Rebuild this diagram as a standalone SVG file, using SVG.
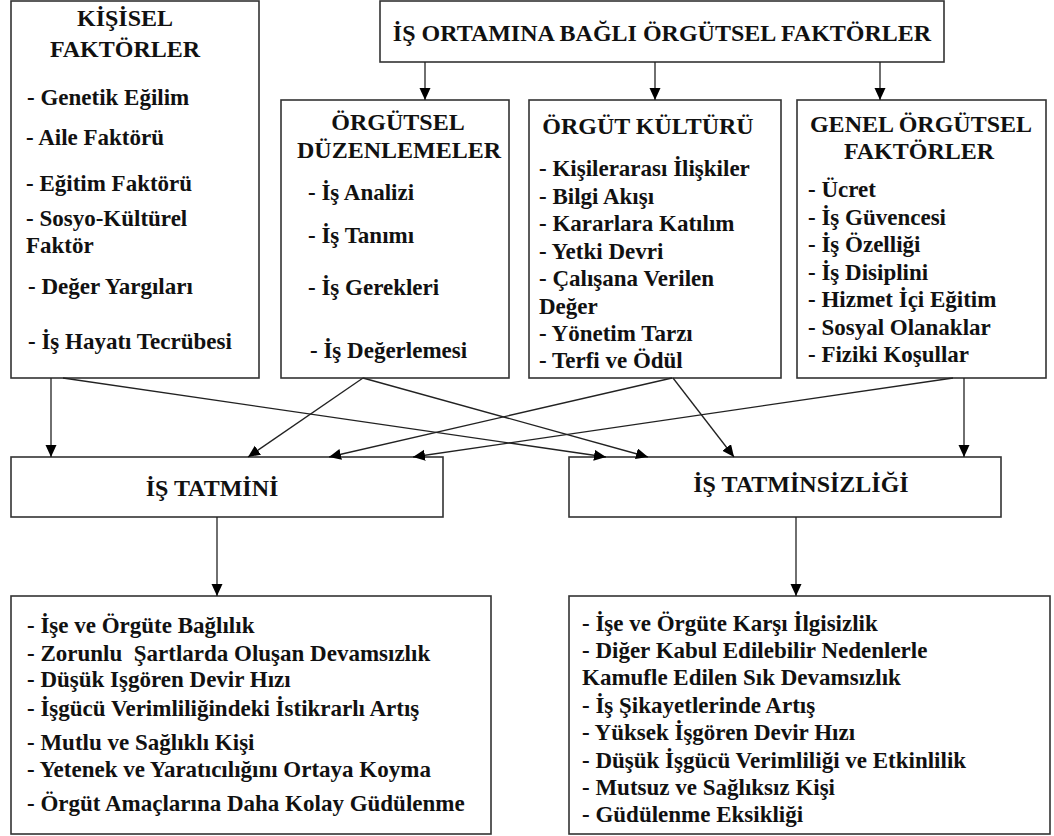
<svg xmlns="http://www.w3.org/2000/svg" width="1054" height="836" viewBox="0 0 1054 836">
<style>
.box{fill:#fff;stroke:#333;stroke-width:1.6}
text{font-family:"Liberation Serif","Times New Roman",serif;font-weight:bold;font-size:23px;fill:#111}
.t{text-anchor:middle;font-size:24px}
.c line{stroke:#222;stroke-width:1.3;marker-end:url(#ah)}
</style>
<defs>
<marker id="ah" markerUnits="userSpaceOnUse" markerWidth="13" markerHeight="12" refX="12" refY="5.5" orient="auto"><path d="M0,0 L12,5.5 L0,11 z" fill="#000"/></marker>
</defs>
<rect width="1054" height="836" fill="#fff"/>

<g id="n-header"><rect class="box" x="380" y="1" width="564" height="61"/><text class="t" x="662" y="41">İŞ ORTAMINA BAĞLI ÖRGÜTSEL FAKTÖRLER</text></g>

<g id="n-kisisel"><rect class="box" x="11" y="1" width="248" height="377"/>
<text class="t" x="125" y="26">KİŞİSEL</text><text class="t" x="125" y="57">FAKTÖRLER</text>
<text x="27" y="105">- Genetik Eğilim</text>
<text x="26" y="145">- Aile Faktörü</text>
<text x="26" y="191">- Eğitim Faktörü</text>
<text x="26" y="226">- Sosyo-Kültürel</text>
<text x="26" y="253">Faktör</text>
<text x="28" y="294">- Değer Yargıları</text>
<text x="28" y="349">- İş Hayatı Tecrübesi</text>
</g>

<g id="n-duzen"><rect class="box" x="281" y="100" width="228" height="278"/>
<text class="t" x="398" y="130">ÖRGÜTSEL</text><text class="t" x="399" y="158">DÜZENLEMELER</text>
<text x="308" y="200">- İş Analizi</text>
<text x="308" y="243">- İş Tanımı</text>
<text x="308" y="295">- İş Gerekleri</text>
<text x="310" y="358">- İş Değerlemesi</text>
</g>

<g id="n-kultur"><rect class="box" x="529" y="100" width="252" height="278"/>
<text class="t" x="648" y="134">ÖRGÜT KÜLTÜRÜ</text>
<text x="539" y="176">- Kişilerarası İlişkiler</text>
<text x="539" y="204">- Bilgi Akışı</text>
<text x="539" y="231">- Kararlara Katılım</text>
<text x="539" y="259">- Yetki Devri</text>
<text x="539" y="286">- Çalışana Verilen</text>
<text x="539" y="314">Değer</text>
<text x="539" y="341">- Yönetim Tarzı</text>
<text x="539" y="368">- Terfi ve Ödül</text>
</g>

<g id="n-genel"><rect class="box" x="797" y="100" width="249" height="278"/>
<text class="t" x="921" y="132">GENEL ÖRGÜTSEL</text><text class="t" x="919" y="159">FAKTÖRLER</text>
<text x="808" y="197">- Ücret</text>
<text x="808" y="225">- İş Güvencesi</text>
<text x="808" y="252">- İş Özelliği</text>
<text x="808" y="280">- İş Disiplini</text>
<text x="808" y="307">- Hizmet İçi Eğitim</text>
<text x="808" y="335">- Sosyal Olanaklar</text>
<text x="808" y="362">- Fiziki Koşullar</text>
</g>

<g id="n-tatmin"><rect class="box" x="11" y="457" width="432" height="60"/><text class="t" x="212" y="496">İŞ TATMİNİ</text></g>
<g id="n-tatminsiz"><rect class="box" x="569" y="457" width="432" height="60"/><text class="t" x="801" y="492">İŞ TATMİNSİZLİĞİ</text></g>

<g id="n-sonuc1"><rect class="box" x="11" y="596" width="480" height="238"/>
<text x="27" y="633">- İşe ve Örgüte Bağlılık</text>
<text x="27" y="661">- Zorunlu &#160;Şartlarda Oluşan Devamsızlık</text>
<text x="27" y="687">- Düşük Işgören Devir Hızı</text>
<text x="27" y="716">- İşgücü Verimliliğindeki İstikrarlı Artış</text>
<text x="27" y="750">- Mutlu ve Sağlıklı Kişi</text>
<text x="27" y="777">- Yetenek ve Yaratıcılığını Ortaya Koyma</text>
<text x="27" y="811">- Örgüt Amaçlarına Daha Kolay Güdülenme</text>
</g>

<g id="n-sonuc2"><rect class="box" x="569" y="596" width="481" height="238"/>
<text x="582" y="631">- İşe ve Örgüte Karşı İlgisizlik</text>
<text x="582" y="658">- Diğer Kabul Edilebilir Nedenlerle</text>
<text x="582" y="685">Kamufle Edilen Sık Devamsızlık</text>
<text x="582" y="713">- İş Şikayetlerinde Artış</text>
<text x="582" y="740">- Yüksek İşgören Devir Hızı</text>
<text x="582" y="768">- Düşük İşgücü Verimliliği ve Etkinlilik</text>
<text x="582" y="795">- Mutsuz ve Sağlıksız Kişi</text>
<text x="582" y="822">- Güdülenme Eksikliği</text>
</g>

<g id="connectors" class="c">
<line x1="425" y1="62" x2="425" y2="100"/>
<line x1="655" y1="62" x2="655" y2="100"/>
<line x1="880" y1="62" x2="880" y2="100"/>
<line x1="51" y1="378" x2="51" y2="457"/>
<line x1="63" y1="378" x2="606" y2="457"/>
<line x1="363" y1="378" x2="248" y2="457"/>
<line x1="363" y1="378" x2="648" y2="457"/>
<line x1="672" y1="378" x2="329" y2="457"/>
<line x1="673" y1="378" x2="734" y2="457"/>
<line x1="953" y1="378" x2="413" y2="457"/>
<line x1="964" y1="378" x2="964" y2="457"/>
<line x1="217" y1="517" x2="217" y2="596"/>
<line x1="796" y1="517" x2="796" y2="596"/>
</g>
</svg>
